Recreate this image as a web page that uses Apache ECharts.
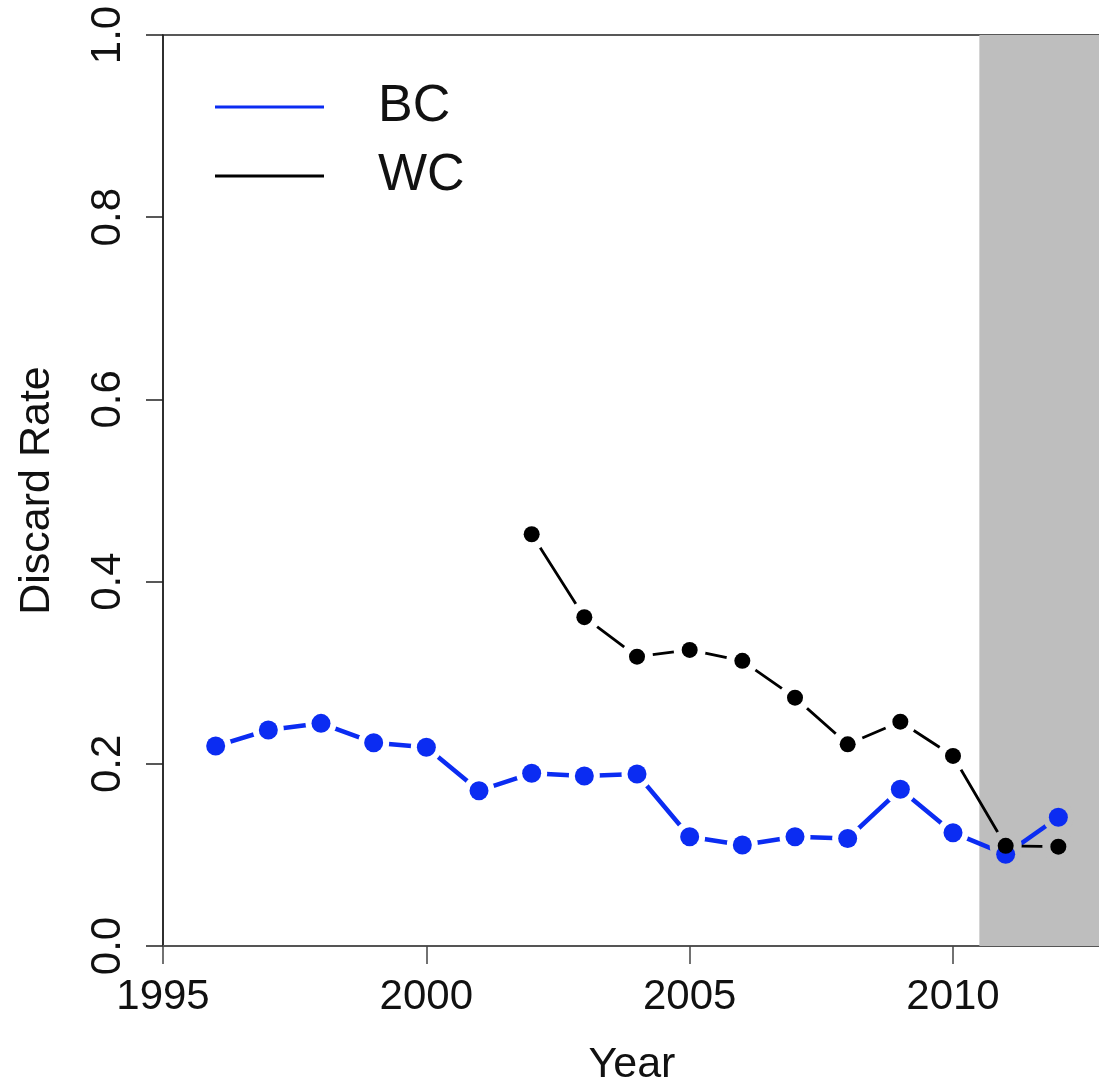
<!DOCTYPE html>
<html>
<head>
<meta charset="utf-8">
<script src="https://cdn.jsdelivr.net/npm/echarts@6/dist/echarts.min.js"></script>
<style>
html,body{margin:0;padding:0;background:#fff;}
#chart{width:1099px;height:1089px;}
</style>
</head>
<body>
<div id="chart"></div>
<script>
// ---- data ----
const bcYears = [1996, 1997, 1998, 1999, 2000, 2001, 2002, 2003, 2004, 2005, 2006, 2007, 2008, 2009, 2010, 2011, 2012];
const bcRate  = [0.2195, 0.2371, 0.2444, 0.2232, 0.2181, 0.1705, 0.1896, 0.1866, 0.1888, 0.1200, 0.1109, 0.1200, 0.1180, 0.1720, 0.1244, 0.1006, 0.1413];
const wcYears = [2002, 2003, 2004, 2005, 2006, 2007, 2008, 2009, 2010, 2011, 2012];
const wcRate  = [0.452, 0.361, 0.3176, 0.325, 0.313, 0.2726, 0.2214, 0.2462, 0.2086, 0.110, 0.109];
const xTickLabels = [1995, 2000, 2005, 2010];
const yTickLabels = [0.0, 0.2, 0.4, 0.6, 0.8, 1.0];
const seriesNames = ['BC', 'WC'];
const shadeStart = 2010.5;
const xMin = 1995, xMax = 2012.81;

// ---- style ----
const BLUE = '#0b2cf2';
const BLACK = '#000000';
const SHADE = '#bebebe';
const FONT = '"Liberation Sans", Arial, Helvetica, sans-serif';

function pairs(xs, ys) { return xs.map((x, i) => [x, ys[i]]); }
function ringData(xs, ys) {
  return xs.map((x, i) => ({ value: [x, ys[i]], itemStyle: { color: x > shadeStart ? SHADE : '#ffffff' } }));
}

const chart = echarts.init(document.getElementById('chart'), null, { renderer: 'canvas' });
chart.setOption({
  animation: false,
  backgroundColor: '#ffffff',
  textStyle: { fontFamily: FONT },
  grid: { left: 163, top: 35, right: -2, bottom: 143, containLabel: false, outerBoundsMode: 'none',
    show: true, borderColor: '#222', borderWidth: 1.5, backgroundColor: 'transparent' },
  legend: {
    orient: 'vertical', left: 215, top: 81, padding: 0, itemWidth: 109, itemHeight: 3, itemGap: 17,
    icon: 'rect', selectedMode: false,
    data: [
      { name: seriesNames[0], itemStyle: { color: BLUE } },
      { name: seriesNames[1], itemStyle: { color: BLACK } }
    ],
    textStyle: { fontSize: 52, lineHeight: 52, color: '#111', fontFamily: FONT, padding: [0, 0, 0, 49] }
  },
  xAxis: {
    type: 'value', min: xMin, max: xMax,
    name: 'Year', nameLocation: 'middle', nameGap: 98,
    nameTextStyle: { fontSize: 43, color: '#111', fontFamily: FONT },
    axisLine: { show: true, onZero: false, lineStyle: { color: '#555', width: 2 } },
    axisTick: { show: true, length: 18, customValues: xTickLabels, lineStyle: { color: '#444', width: 1.5 } },
    axisLabel: { customValues: xTickLabels, fontSize: 42, color: '#111', margin: 30, fontFamily: FONT,
      formatter: v => String(Math.round(v)) },
    splitLine: { show: false }
  },
  yAxis: {
    type: 'value', min: 0, max: 1, interval: 0.2,
    name: 'Discard Rate', nameLocation: 'middle', nameRotate: 90, nameGap: 104,
    nameTextStyle: { fontSize: 43, color: '#111', fontFamily: FONT },
    axisLine: { show: true, onZero: false, lineStyle: { color: '#222', width: 1.5 } },
    axisTick: { show: true, length: 17, lineStyle: { color: '#222', width: 1.5 } },
    axisLabel: { rotate: 90, fontSize: 42, color: '#111', margin: 34, fontFamily: FONT,
      formatter: v => yTickLabels.some(t => Math.abs(t - v) < 1e-9) ? v.toFixed(1) : '' },
    splitLine: { show: false }
  },
  series: [
    {
      name: 'shade', type: 'line', data: [], z: 1, silent: true,
      markArea: { silent: true, itemStyle: { color: SHADE, opacity: 1 },
        data: [[{ xAxis: shadeStart, yAxis: 0 }, { xAxis: xMax, yAxis: 1 }]] }
    },
    {
      name: 'BC-line', type: 'line', z: 2, silent: true, data: pairs(bcYears, bcRate),
      symbol: 'none', lineStyle: { color: BLUE, width: 4.5 }, emphasis: { disabled: true }
    },
    {
      name: 'BC-gap', type: 'scatter', z: 3, silent: true, data: ringData(bcYears, bcRate),
      symbol: 'circle', symbolSize: 31, itemStyle: { opacity: 1 }
    },
    {
      name: 'WC-line', type: 'line', z: 4, silent: true, data: pairs(wcYears, wcRate),
      symbol: 'none', lineStyle: { color: BLACK, width: 2.8 }, emphasis: { disabled: true }
    },
    {
      name: 'WC-gap', type: 'scatter', z: 5, silent: true, data: ringData(wcYears, wcRate),
      symbol: 'circle', symbolSize: 32, itemStyle: { opacity: 1 }
    },
    {
      name: seriesNames[0], type: 'scatter', z: 6, silent: true, data: pairs(bcYears, bcRate),
      symbol: 'circle', symbolSize: 19, itemStyle: { color: BLUE, opacity: 1 }
    },
    {
      name: seriesNames[1], type: 'scatter', z: 7, silent: true, data: pairs(wcYears, wcRate),
      symbol: 'circle', symbolSize: 16, itemStyle: { color: BLACK, opacity: 1 }
    }
  ]
});
</script>
</body>
</html>
